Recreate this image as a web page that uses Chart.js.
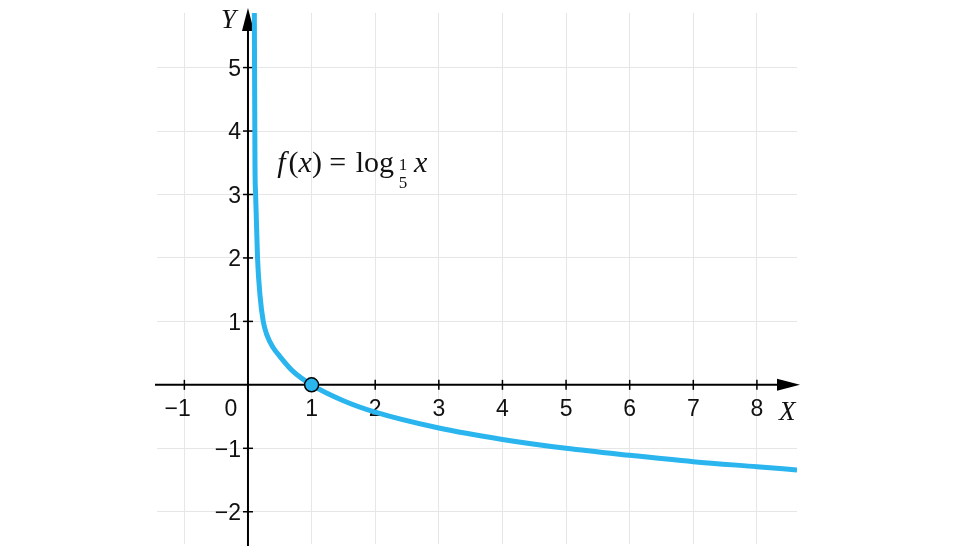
<!DOCTYPE html>
<html>
<head>
<meta charset="utf-8">
<script src="https://cdn.jsdelivr.net/npm/chart.js@4.4.0/dist/chart.umd.min.js"></script>
<style>
  html, body { margin: 0; padding: 0; background: #fff; }
  #wrap { width: 960px; height: 552px; }
</style>
</head>
<body>
<div id="wrap"><canvas id="graph"></canvas></div>
<script>
// values
const curveX = [0.1, 0.11, 0.12, 0.15, 0.19, 0.24, 0.3, 0.4, 0.5, 0.7, 1, 1.5, 2, 3, 4, 5, 6, 7, 8, 8.63];
const curveY = [5.86, 3.5, 3.0, 2.0, 1.4, 1.0, 0.78, 0.58, 0.45, 0.22, 0, -0.25, -0.43, -0.68, -0.86, -1.0, -1.11, -1.21, -1.29, -1.34];
const markX = [1];
const markY = [0];
const xTicks = [-1, 0, 1, 2, 3, 4, 5, 6, 7, 8];
const yTicks = [-2, -1, 1, 2, 3, 4, 5];
const xRange = [-1.43, 8.63];
const yRange = [-2.5, 5.86];

const blue = '#2ab5ee';

// axes, arrows, tick marks, labels and the formula
const axesPlugin = {
    id: 'axes',
    beforeDatasetsDraw(chart) {
        const ctx = chart.ctx;
        const xs = chart.scales.x, ys = chart.scales.y;
        const x0 = xs.getPixelForValue(0), y0 = ys.getPixelForValue(0);
        ctx.save();
        ctx.strokeStyle = '#000';
        ctx.fillStyle = '#000';
        ctx.lineWidth = 2;

        // x axis
        ctx.beginPath();
        ctx.moveTo(155, y0);
        ctx.lineTo(782, y0);
        ctx.stroke();
        ctx.beginPath();
        ctx.moveTo(800, y0);
        ctx.lineTo(777, y0 - 6);
        ctx.lineTo(777, y0 + 6);
        ctx.closePath();
        ctx.fill();

        // y axis
        ctx.beginPath();
        ctx.moveTo(x0, 546);
        ctx.lineTo(x0, 26);
        ctx.stroke();
        ctx.beginPath();
        ctx.moveTo(x0, 8);
        ctx.lineTo(x0 - 6, 31);
        ctx.lineTo(x0 + 6, 31);
        ctx.closePath();
        ctx.fill();

        // ticks
        ctx.lineWidth = 1.5;
        ctx.font = '23px "Liberation Sans", Arial, sans-serif';
        ctx.fillStyle = '#111';
        xTicks.forEach(v => {
            const px = xs.getPixelForValue(v);
            if (v !== 0) {
                ctx.beginPath();
                ctx.moveTo(px, y0 - 5);
                ctx.lineTo(px, y0 + 5);
                ctx.stroke();
            }
            const txt = v < 0 ? '\u2212' + Math.abs(v) : String(v);
            ctx.textBaseline = 'middle';
            if (v === 0) {
                ctx.textAlign = 'center';
                ctx.fillText('0', px - 17, y0 + 25);
            } else {
                ctx.textAlign = 'right';
                const w = ctx.measureText(String(Math.abs(v))).width;
                ctx.fillText(txt, px + w / 2, y0 + 25);
            }
        });
        yTicks.forEach(v => {
            const py = ys.getPixelForValue(v);
            ctx.beginPath();
            ctx.moveTo(x0 - 5, py);
            ctx.lineTo(x0 + 5, py);
            ctx.stroke();
            const txt = v < 0 ? '\u2212' + Math.abs(v) : String(v);
            ctx.textAlign = 'right';
            ctx.textBaseline = 'middle';
            ctx.fillText(txt, x0 - 7, py + 2);
        });

        // axis names
        ctx.font = 'italic 27px "Liberation Serif", "DejaVu Serif", serif';
        ctx.fillStyle = '#111';
        ctx.textAlign = 'left';
        ctx.textBaseline = 'alphabetic';
        ctx.fillText('X', 779, 420);
        ctx.fillText('Y', 221, 28);

        // formula f(x) = log_{1/5} x
        let fx = xs.getPixelForValue(0.46);
        const base = ys.getPixelForValue(3.36);
        const it = 'italic 30px "Liberation Serif", "DejaVu Serif", serif';
        const rm = '30px "Liberation Serif", "DejaVu Serif", serif';
        const parts = [[it, 'f'], [rm, '('], [it, 'x'], [rm, ')'], [rm, ' = '], [rm, 'log']];
        parts.forEach(p => {
            ctx.font = p[0];
            ctx.fillText(p[1], fx, base);
            fx += ctx.measureText(p[1]).width + (p[1] === 'f' ? 3 : 0) + (p[1] === ' = ' ? 2 : 0);
        });
        ctx.font = '17px "Liberation Serif", "DejaVu Serif", serif';
        ctx.textAlign = 'center';
        ctx.fillText('1', fx + 9, base - 2);
        ctx.fillText('5', fx + 9, base + 16);
        ctx.textAlign = 'left';
        ctx.font = it;
        ctx.fillText('x', fx + 20, base);
        ctx.restore();
    }
};

new Chart(document.getElementById('graph'), {
    type: 'scatter',
    data: {
        datasets: [{
            data: curveX.map((x, i) => ({ x: x, y: curveY[i] })),
            showLine: true,
            borderColor: blue,
            borderWidth: 5,
            pointRadius: 0,
            cubicInterpolationMode: 'monotone',
            order: 2
        }, {
            data: markX.map((x, i) => ({ x: x, y: markY[i] })),
            pointRadius: 7,
            pointBackgroundColor: blue,
            pointBorderColor: '#000',
            pointBorderWidth: 1.5,
            order: 1
        }]
    },
    options: {
        responsive: true,
        maintainAspectRatio: false,
        animation: false,
        layout: { padding: { left: 157, right: 163, top: 13, bottom: 4 } },
        plugins: { legend: { display: false }, tooltip: { enabled: false } },
        scales: {
            x: {
                type: 'linear',
                min: xRange[0], max: xRange[1],
                ticks: { display: false, stepSize: 1, includeBounds: false },
                grid: { color: '#e6e6e6', lineWidth: 1, drawTicks: false },
                border: { display: false }
            },
            y: {
                type: 'linear',
                min: yRange[0], max: yRange[1],
                ticks: { display: false, stepSize: 1, includeBounds: false },
                grid: { color: '#e6e6e6', lineWidth: 1, drawTicks: false },
                border: { display: false }
            }
        }
    },
    plugins: [axesPlugin]
});
</script>
</body>
</html>
